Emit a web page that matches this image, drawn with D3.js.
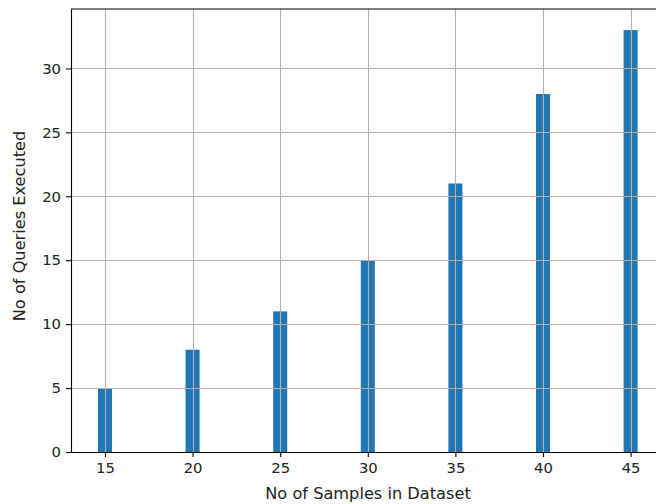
<!DOCTYPE html>
<html>
<head>
<meta charset="utf-8">
<script src="https://cdn.jsdelivr.net/npm/d3@7"></script>
<style>
  body { margin: 0; background: #fff; }
  svg { display: block; }
  text { font-family: "DejaVu Sans", sans-serif; }
</style>
</head>
<body>
<div id="container"></div>
<script>
var samples = [15, 20, 25, 30, 35, 40, 45];
var queries = [5, 8, 11, 15, 21, 28, 33];
var xTicks = [15, 20, 25, 30, 35, 40, 45];
var yTicks = [0, 5, 10, 15, 20, 25, 30];

const W = 656, H = 504;
var margin = {top: 9, left: 71};
const barW = 0.8;
const tickFont = 14.8, labelFont = 16.2;

// matplotlib-ish auto margins (5%)
var lo = d3.min(samples) - barW / 2, hi = d3.max(samples) + barW / 2;
var pad = (hi - lo) * 0.05;
const x = d3.scaleLinear()
    .domain([lo - pad, hi + pad])
    .range([margin.left, 664.6]);

const y = d3.scaleLinear()
    .domain([0, d3.max(queries) * 1.05])
    .range([452, margin.top]);

const svg = d3.select("#container")
    .append("svg")
        .attr("width", W)
        .attr("height", H);

// bars
svg.append("g")
    .attr("fill", "#1f77b4")
    .selectAll()
    .data(samples)
    .join("rect")
    .attr("x", (d) => x(d - barW / 2))
    .attr("y", (d, i) => y(queries[i]))
    .attr("width", (d) => x(d + barW / 2) - x(d - barW / 2))
    .attr("height", (d, i) => y(0) - y(queries[i]));

// grid on top of bars
var grid = svg.append("g")
    .attr("stroke", "#b0b0b0")
    .attr("stroke-width", 1.1);
grid.selectAll(".gx")
    .data(xTicks)
    .join("line")
    .attr("x1", d => Math.round(x(d)) + 0.5)
    .attr("x2", d => Math.round(x(d)) + 0.5)
    .attr("y1", y.range()[1])
    .attr("y2", y(0));
grid.selectAll(".gy")
    .data(yTicks)
    .join("line")
    .attr("y1", d => Math.round(y(d)) + 0.5)
    .attr("y2", d => Math.round(y(d)) + 0.5)
    .attr("x1", x.range()[0])
    .attr("x2", x.range()[1]);

// x-axis
var xAxis = svg.append("g")
    .attr("transform", "translate(0," + y(0) + ")")
    .call(d3.axisBottom(x).tickValues(xTicks).tickSize(5).tickPadding(5).tickSizeOuter(0));
xAxis.select(".domain").attr("stroke", "#000").attr("stroke-width", 1.1);
xAxis.selectAll(".tick line").attr("stroke", "#000").attr("stroke-width", 1.1);
xAxis.selectAll("text").attr("font-size", tickFont).attr("fill", "#222").attr("font-family", "DejaVu Sans");

// y-axis
var yAxis = svg.append("g")
    .attr("transform", "translate(" + x.range()[0] + ",0)")
    .call(d3.axisLeft(y).tickValues(yTicks).tickSize(5).tickPadding(5).tickSizeOuter(0));
yAxis.select(".domain").attr("stroke", "#000").attr("stroke-width", 1.1);
yAxis.selectAll(".tick line").attr("stroke", "#000").attr("stroke-width", 1.1);
yAxis.selectAll("text").attr("font-size", tickFont).attr("fill", "#222").attr("font-family", "DejaVu Sans");

// top spine
svg.append("line")
    .attr("x1", x.range()[0]).attr("x2", x.range()[1])
    .attr("y1", y.range()[1]).attr("y2", y.range()[1])
    .attr("stroke", "#000").attr("stroke-width", 1.1);

// labels
svg.append("text")
    .attr("x", 368)
    .attr("y", 499)
    .attr("text-anchor", "middle")
    .attr("font-size", labelFont)
    .attr("fill", "#222")
    .text("No of Samples in Dataset");

svg.append("text")
    .attr("transform", "translate(25,226)rotate(-90)")
    .attr("text-anchor", "middle")
    .attr("font-size", labelFont)
    .attr("fill", "#222")
    .text("No of Queries Executed");
</script>
</body>
</html>
